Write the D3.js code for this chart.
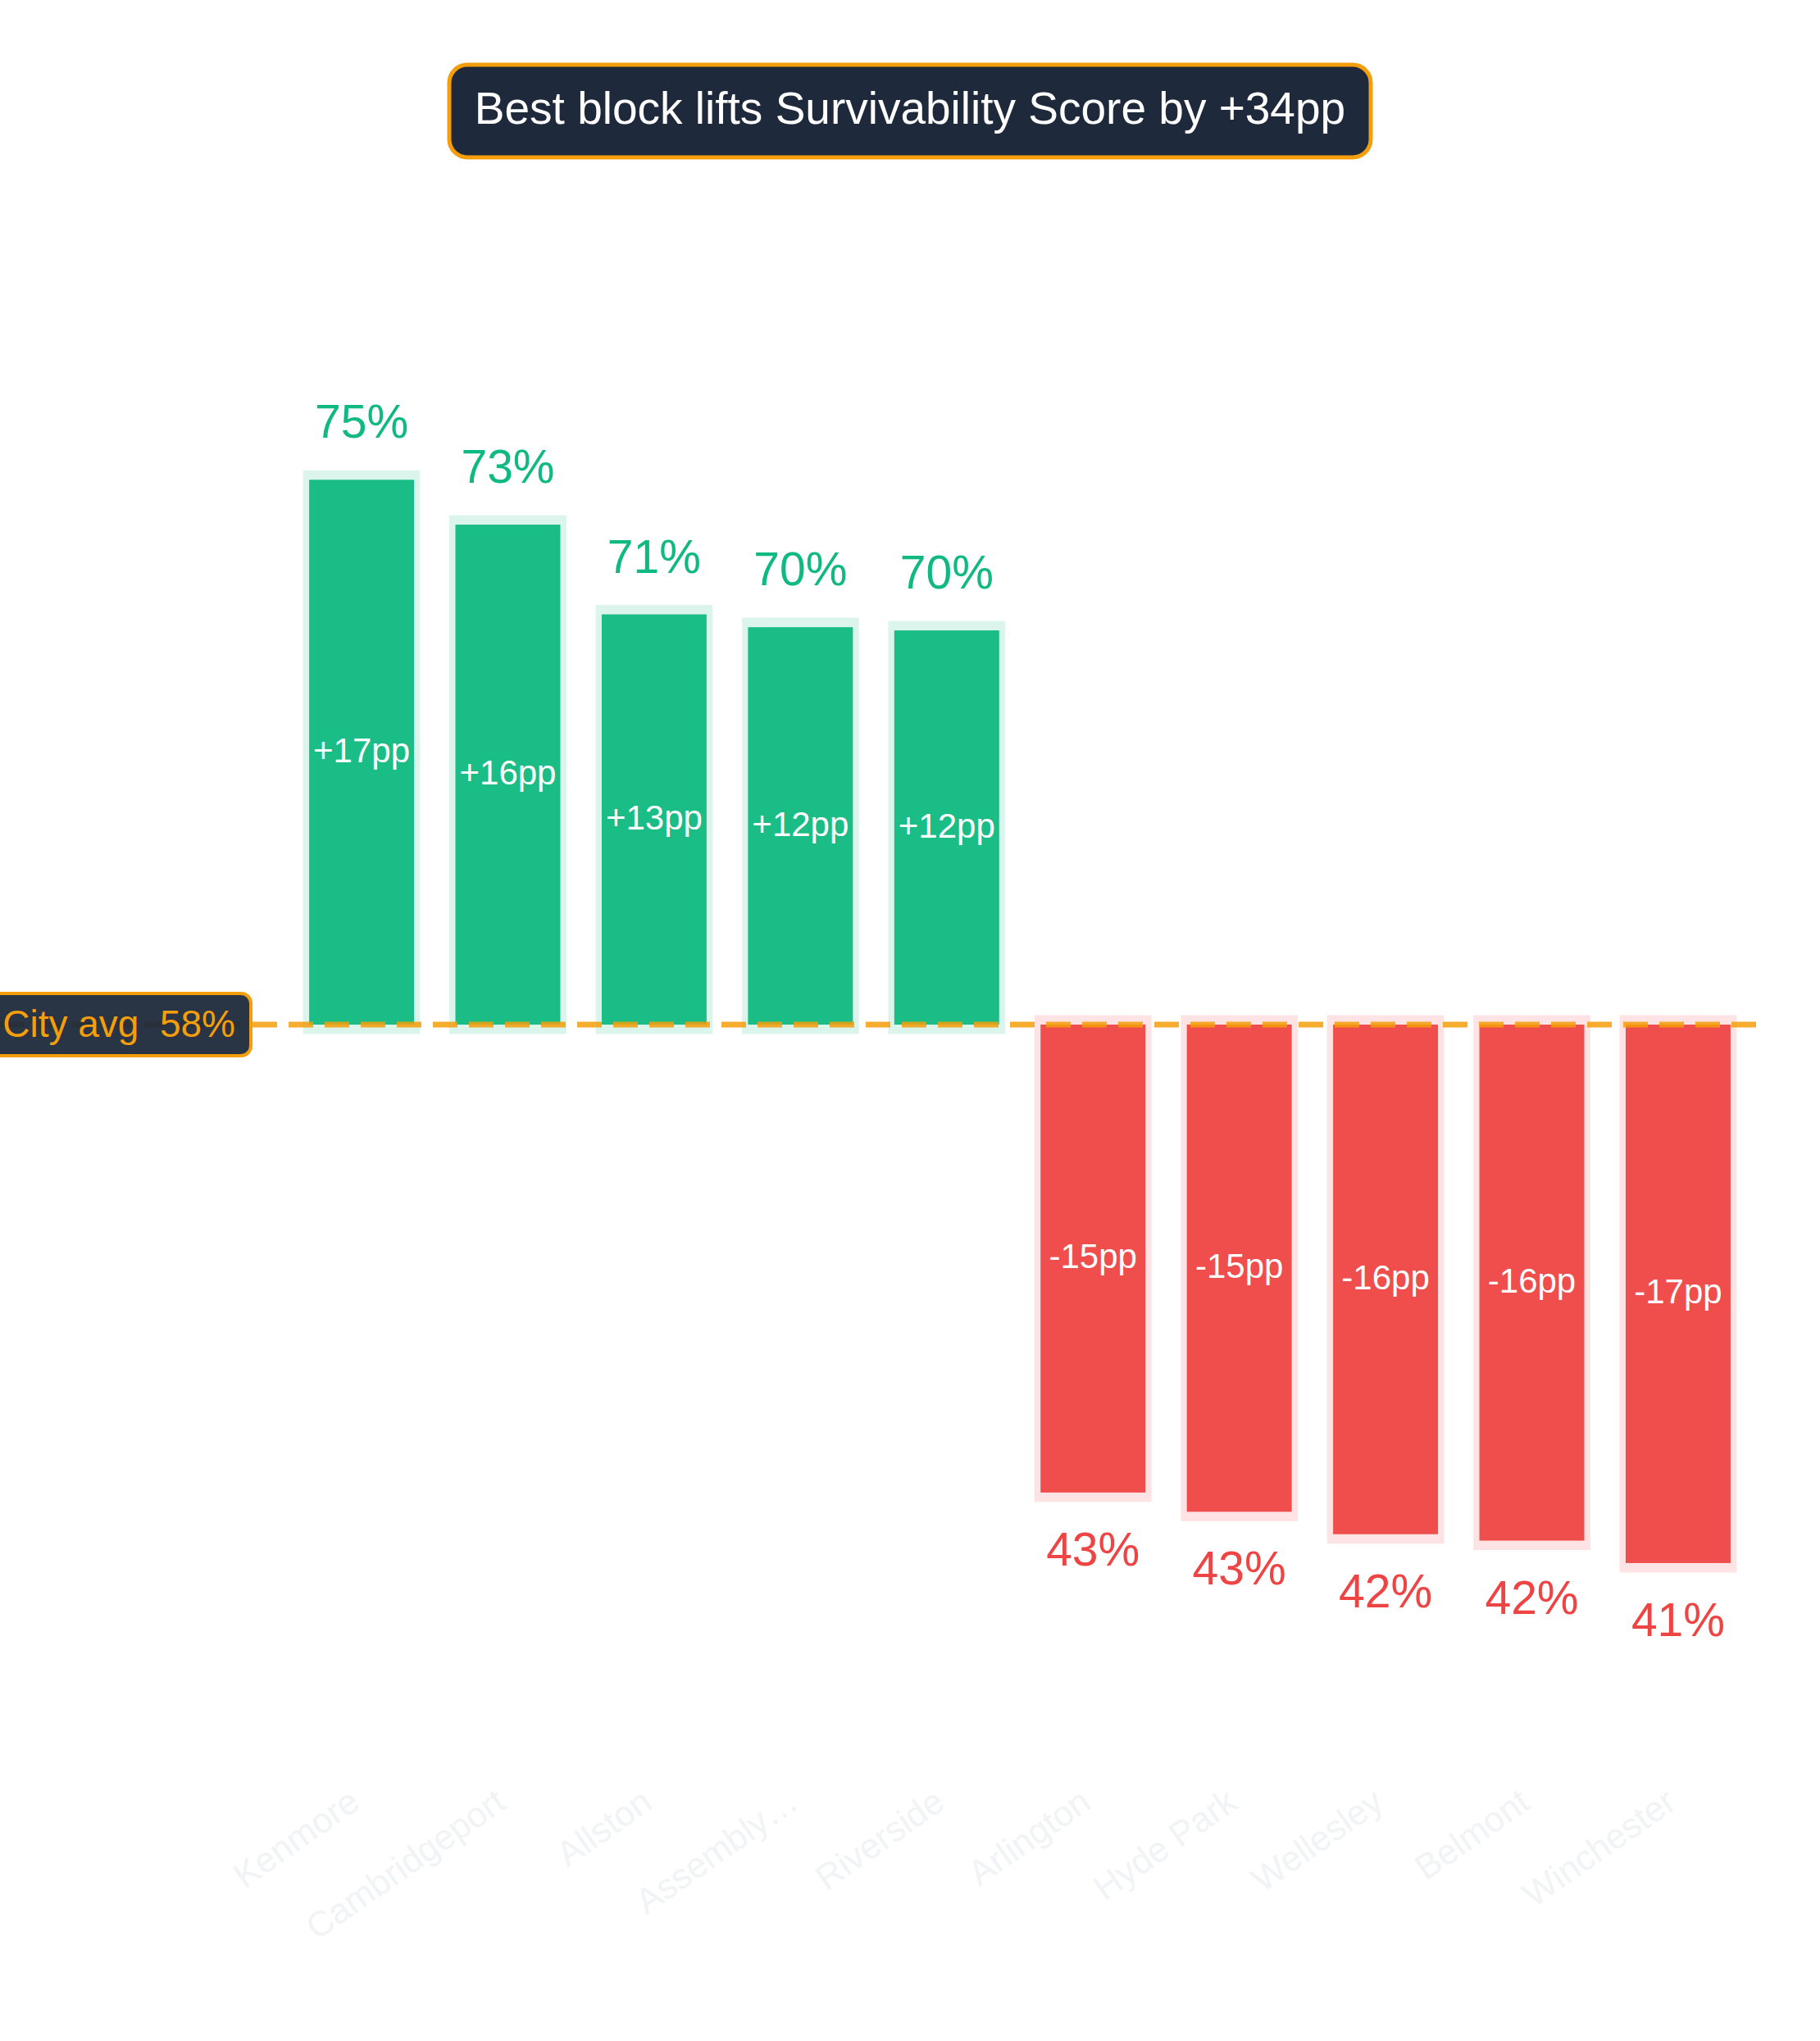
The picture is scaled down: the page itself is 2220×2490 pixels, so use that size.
<!DOCTYPE html>
<html>
<head>
<meta charset="utf-8">
<script src="https://cdn.jsdelivr.net/npm/d3@7"></script>
<style>
  html, body { margin: 0; padding: 0; background: #ffffff; }
  svg { display: block; font-family: "Liberation Sans", Arial, Helvetica, sans-serif; }
</style>
</head>
<body>
<script>
// ---- data ----
const categories = ["Kenmore", "Cambridgeport", "Allston", "Assembly…", "Riverside",
                    "Arlington", "Hyde Park", "Wellesley", "Belmont", "Winchester"];
const scores = [74.8, 73.4, 70.6, 70.2, 70.1, 43.2, 42.6, 41.9, 41.7, 41.0];
const cityAvg = 57.8;
const titleText = "Best block lifts Survivability Score by +34pp";
const avgLabel = "City avg  58%";

// ---- layout ----
const W = 2220, H = 2490;
const svg = d3.select("body").append("svg").attr("width", W).attr("height", H);

const x = d3.scaleBand().domain(categories).range([334, 2154])
  .paddingInner(0.2).paddingOuter(0.2);
const y = d3.scaleLinear().domain([34, 80]).range([2180.6, 382]);

const GREEN = "#10b981", RED = "#ef4444", ORANGE = "#f59e0b", NAVY = "#1e293b";
const rows = categories.map((c, i) => ({ c, v: scores[i], d: scores[i] - cityAvg }));
const inset = 7.4, haloPad = 11.5;

// halos
svg.append("g").selectAll("rect").data(rows).join("rect")
  .attr("x", d => x(d.c))
  .attr("width", x.bandwidth())
  .attr("y", d => Math.min(y(d.v), y(cityAvg)) - haloPad)
  .attr("height", d => Math.abs(y(d.v) - y(cityAvg)) + 2 * haloPad)
  .attr("fill", d => d.d >= 0 ? GREEN : RED)
  .attr("opacity", 0.15);

// bars
svg.append("g").selectAll("rect").data(rows).join("rect")
  .attr("x", d => x(d.c) + inset)
  .attr("width", x.bandwidth() - 2 * inset)
  .attr("y", d => Math.min(y(d.v), y(cityAvg)))
  .attr("height", d => Math.abs(y(d.v) - y(cityAvg)))
  .attr("fill", d => d.d >= 0 ? GREEN : RED)
  .attr("opacity", 0.95);

// city average line
svg.append("line")
  .attr("x1", 0).attr("x2", x.range()[1])
  .attr("y1", y(cityAvg)).attr("y2", y(cityAvg))
  .attr("stroke", ORANGE).attr("stroke-width", 7)
  .attr("stroke-dasharray", "30,14").attr("opacity", 0.85);

// city avg badge
const avgG = svg.append("g");
avgG.append("rect")
  .attr("x", -20).attr("y", y(cityAvg) - 38).attr("width", 326).attr("height", 76)
  .attr("rx", 12).attr("fill", NAVY).attr("fill-opacity", 0.95)
  .attr("stroke", ORANGE).attr("stroke-width", 4);
avgG.append("text")
  .attr("x", 287).attr("y", y(cityAvg) + 15)
  .attr("text-anchor", "end").attr("font-size", 46).attr("fill", ORANGE)
  .style("white-space", "pre")
  .text(avgLabel);

// value labels
svg.append("g").selectAll("text").data(rows).join("text")
  .attr("x", d => x(d.c) + x.bandwidth() / 2)
  .attr("y", d => d.d >= 0 ? y(d.v) - 51 : y(d.v) + 89)
  .attr("text-anchor", "middle").attr("font-size", 57)
  .attr("fill", d => d.d >= 0 ? GREEN : RED)
  .text(d => Math.round(d.v) + "%");

// delta labels inside bars
svg.append("g").selectAll("text").data(rows).join("text")
  .attr("x", d => x(d.c) + x.bandwidth() / 2)
  .attr("y", d => (y(d.v) + y(cityAvg)) / 2 + 12)
  .attr("text-anchor", "middle").attr("font-size", 42)
  .attr("fill", "#ffffff")
  .text(d => (d.d >= 0 ? "+" : "-") + Math.abs(Math.round(d.d)) + "pp");

// x axis (category labels)
const xAxis = svg.append("g")
  .attr("transform", `translate(0,${y.range()[0]})`)
  .call(d3.axisBottom(x).tickSize(0));
xAxis.select(".domain").remove();
xAxis.selectAll("text")
  .attr("y", 0).attr("dy", 0).attr("x", 0)
  .attr("transform", "translate(0,24) rotate(-35)")
  .attr("text-anchor", "end")
  .attr("font-size", 43)
  .attr("font-family", "\"Liberation Sans\", Arial, Helvetica, sans-serif")
  .attr("fill", "#f1f3f5");

// title badge
const tG = svg.append("g");
tG.append("rect")
  .attr("x", 548).attr("y", 79).attr("width", 1124).attr("height", 113)
  .attr("rx", 22).attr("fill", NAVY)
  .attr("stroke", ORANGE).attr("stroke-width", 5);
tG.append("text")
  .attr("x", 1110).attr("y", 151)
  .attr("text-anchor", "middle").attr("font-size", 55).attr("fill", "#ffffff")
  .text(titleText);
</script>
</body>
</html>
